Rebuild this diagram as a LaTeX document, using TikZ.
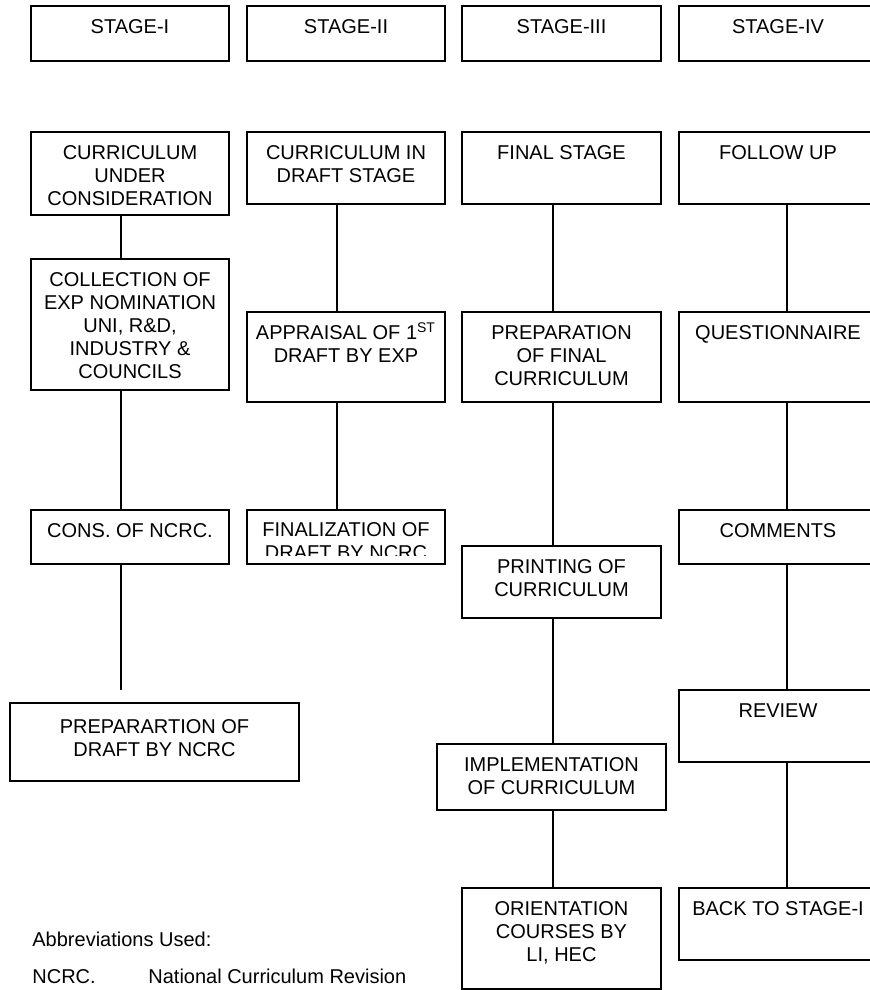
\documentclass[tikz,border=0pt]{standalone}
\usepackage{fontspec}
\setmainfont{Liberation Sans}
\usetikzlibrary{calc}
\tikzset{
  box/.style={draw=black, line width=1pt, rectangle, inner sep=0pt, outer sep=0pt, fill=white},
  txt/.style={inner sep=0pt, align=center, anchor=north, font=\fontsize{10}{11.5}\selectfont},
  plain/.style={inner sep=0pt, anchor=base west, font=\fontsize{10}{11.5}\selectfont},
  link/.style={draw=black, line width=1pt}
}
% strut of 10pt: north anchor sits 20 units (10pt) above the first baseline
\newcommand\fs{\rule{0pt}{10pt}}
\newcommand\mybox[6]{%
  \node[box, anchor=north west, minimum width={(#4-#2)*0.5pt}, minimum height={(#5-#3)*0.5pt}] (#1) at (#2,#3) {};
  \node[txt] (#1-t) at ($(#1.north)+(0,7)$) {\fs#6};
}
\begin{document}
\begin{tikzpicture}[x=0.5pt,y=-0.5pt]
\useasboundingbox (0,0) rectangle (870,990);
\clip (0,0) rectangle (870,990);
\fill[white] (0,0) rectangle (870,990);

\coordinate (L1) at (121,0);
\coordinate (L2) at (337,0);
\coordinate (L3) at (553,0);
\coordinate (L4) at (787,0);

% stage headers
\mybox{s1}{31}{6}{229}{61}{STAGE-I}
\mybox{s2}{247}{6}{445}{61}{STAGE-II}
\mybox{s3}{462}{6}{661}{61}{STAGE-III}
\mybox{s4}{679}{6}{877}{61}{STAGE-IV}

% column 1
\mybox{a1}{31}{132}{229}{215}{CURRICULUM\\UNDER\\CONSIDERATION}
\mybox{a2}{31}{259}{229}{390}{COLLECTION OF\\EXP NOMINATION\\UNI, R\&D,\\INDUSTRY \&\\COUNCILS}
\mybox{a3}{31}{510}{229}{564}{CONS. OF NCRC.}
\coordinate (a3end) at (121,690);
\node[box, anchor=north west, minimum width=144.5pt, minimum height=39pt] (a4) at (10,703) {};
\node[txt] (a4-t) at ($(a4.north)+(0,10)$) {\fs PREPARARTION OF\\DRAFT BY NCRC};

% column 2
\mybox{b1}{247}{132}{445}{204}{CURRICULUM IN\\DRAFT STAGE}
\mybox{b2}{247}{312}{445}{402}{APPRAISAL OF 1\textsuperscript{ST}\\DRAFT BY EXP}
\node[box, anchor=north west, minimum width=99pt, minimum height=27pt] (b3) at (247,510) {};
\begin{scope}
  \clip (247,510) rectangle (445,555);
  \node[txt] (b3-t) at ($(b3.north)+(0,6)$) {\fs FINALIZATION OF\\DRAFT BY NCRC};
\end{scope}

% column 3
\mybox{c1}{462}{132}{661}{204}{FINAL STAGE}
\mybox{c2}{462}{312}{661}{402}{PREPARATION\\OF FINAL\\CURRICULUM}
\mybox{c3}{462}{546}{661}{618}{PRINTING OF\\CURRICULUM}
\mybox{c4}{437}{744}{666}{810}{IMPLEMENTATION\\OF CURRICULUM}
\mybox{c5}{462}{888}{661}{989}{ORIENTATION\\COURSES BY\\LI, HEC}

% column 4
\mybox{d1}{679}{132}{877}{204}{FOLLOW UP}
\mybox{d2}{679}{312}{877}{402}{QUESTIONNAIRE}
\mybox{d3}{679}{510}{877}{564}{COMMENTS}
\mybox{d4}{679}{690}{877}{762}{REVIEW}
\mybox{d5}{679}{888}{877}{960}{BACK TO STAGE-I}

% connectors
\draw[link] (a1.south -| L1) -- (a2.north -| L1);
\draw[link] (a2.south -| L1) -- (a3.north -| L1);
\draw[link] (a3.south -| L1) -- (a3end);

\draw[link] (b1.south -| L2) -- (b2.north -| L2);
\draw[link] (b2.south -| L2) -- (b3.north -| L2);

\draw[link] (c1.south -| L3) -- (c2.north -| L3);
\draw[link] (c2.south -| L3) -- (c3.north -| L3);
\draw[link] (c3.south -| L3) -- (c4.north -| L3);
\draw[link] (c4.south -| L3) -- (c5.north -| L3);

\draw[link] (d1.south -| L4) -- (d2.north -| L4);
\draw[link] (d2.south -| L4) -- (d3.north -| L4);
\draw[link] (d3.south -| L4) -- (d4.north -| L4);
\draw[link] (d4.south -| L4) -- (d5.north -| L4);

% abbreviations
\node[plain] (abbr) at (32,946) {Abbreviations Used:};
\node[plain] (ncrc) at (32,983) {NCRC.};
\node[plain] (ncrcdef) at (148,983) {National Curriculum Revision};
\end{tikzpicture}
\end{document}
